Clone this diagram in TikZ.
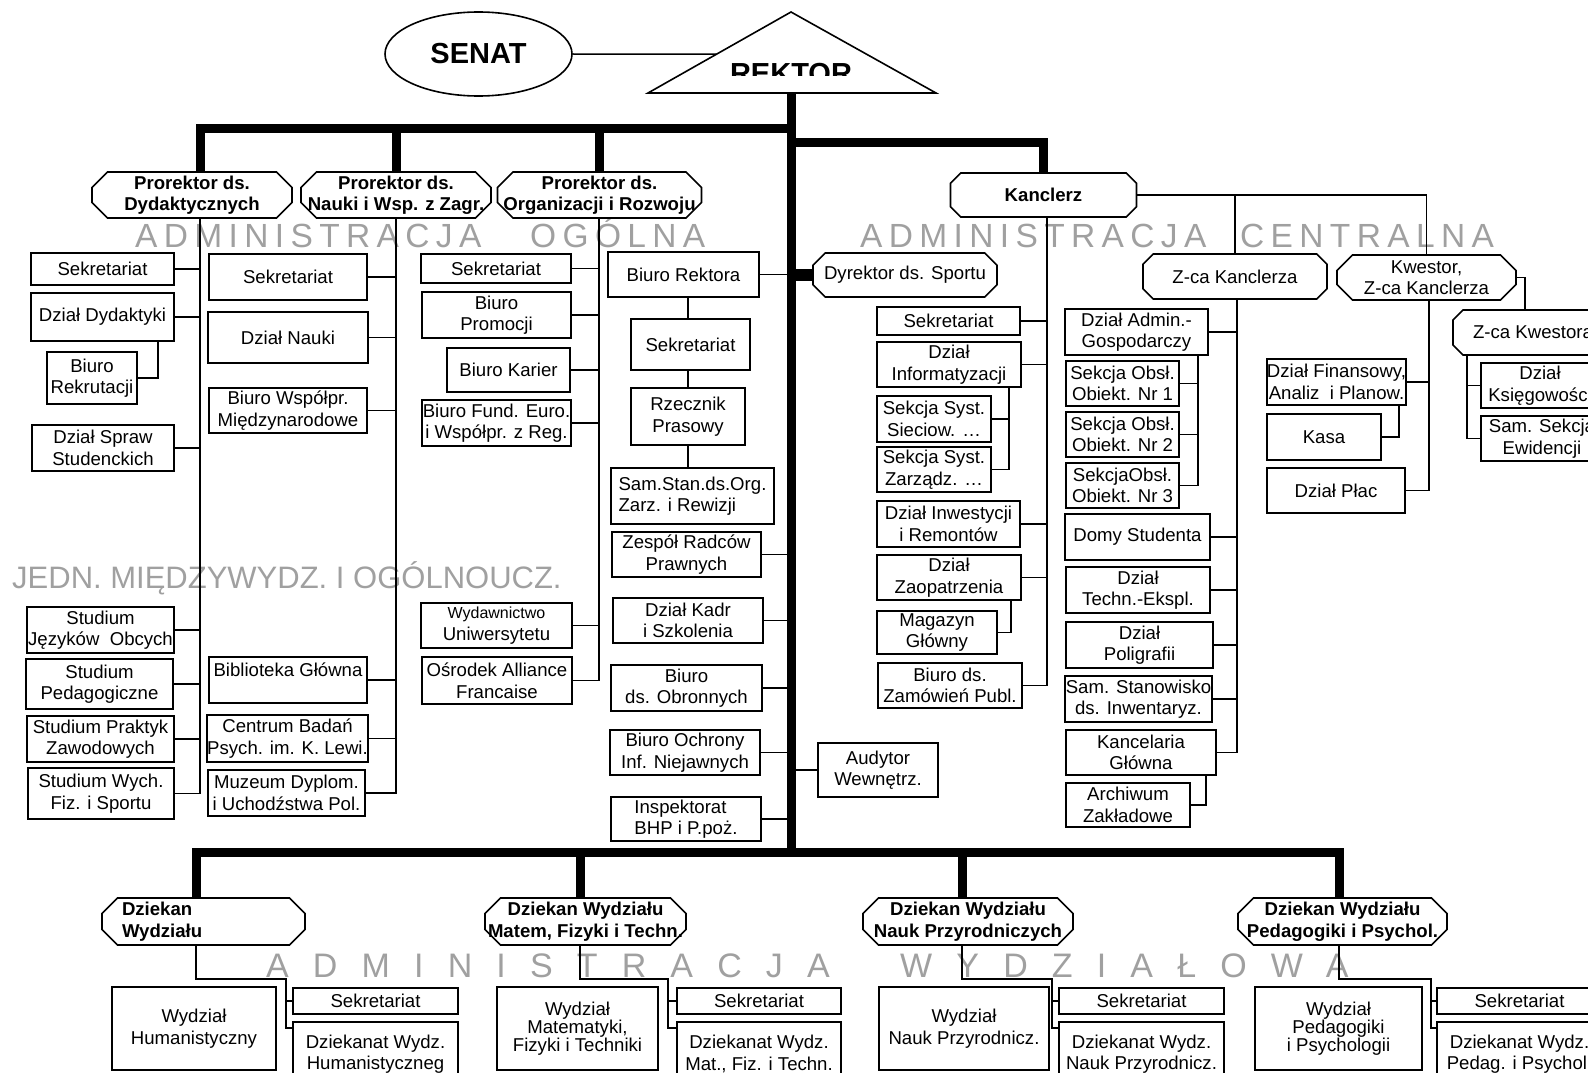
\documentclass[tikz,border=0pt]{standalone}
\usepackage{fontspec}
\setmainfont{Liberation Sans}
\newfontfamily\wmfamily[LetterSpace=19]{Liberation Sans}
\newfontfamily\wmwidefamily[LetterSpace=71]{Liberation Sans}
\usepackage{tikz}
\usetikzlibrary{calc,shapes.misc,shapes.geometric}
\definecolor{wmgray}{RGB}{160,160,160}
\newcommand\boxfont{\fontsize{18.6}{21.5}\selectfont}
\newcommand\smallboxfont{\fontsize{16}{21.5}\selectfont}
\newcommand\tightfont{\fontsize{18.6}{18}\selectfont}
\newcommand\titlefont{\fontsize{29}{32}\selectfont\bfseries}
\newcommand\wmfont{\wmfamily\fontsize{33.5}{36}\selectfont}
\newcommand\wmwidefont{\wmwidefamily\fontsize{34}{36}\selectfont}
\newcommand\jednfont{\fontsize{31}{34}\selectfont}

\begin{document}
\begin{tikzpicture}[
  x=1pt, y=-1pt,
  box/.style={draw, rectangle, line width=1.6pt, fill=white,
    inner sep=0pt, align=center, font=\boxfont},
  head/.style={draw, chamfered rectangle, chamfered rectangle xsep=12pt,
    line width=1.6pt, fill=white, inner sep=0pt, align=center, font=\boxfont},
  headb/.style={head, font=\boxfont\bfseries},
  wh/.style 2 args={minimum width=#1, minimum height=#2},
  link/.style={line width=1.5pt},
  trunk/.style={line width=9pt},
  wmark/.style={anchor=base west, inner sep=0pt, text=wmgray, font=\wmfont}
]
\clip (0,0) rectangle (1588,1073);

% watermarks
\node[wmark] (wmOgA) at (135,247) {ADMINISTRACJA};
\node[wmark] (wmOgB) at (530,247) {OGÓLNA};
\node[wmark] (wmCenA) at (860,247) {ADMINISTRACJA};
\node[wmark] (wmCenB) at (1240,247) {CENTRALNA};
\node[wmark, font=\jednfont] (wmJedn) at (12,588) {JEDN. MIĘDZYWYDZ. I OGÓLNOUCZ.};
\node[wmark, font=\wmwidefont] (wmWydA) at (266,977) {ADMINISTRACJA};
\node[wmark, font=\wmwidefont] (wmWydB) at (900,977) {WYDZIAŁOWA};

% senat and rektor
\node[draw, ellipse, line width=1.6pt, wh={187}{84}, inner sep=0pt,
  font=\titlefont] (senat) at (478.5,54) {SENAT};

\coordinate (apex) at (791,12);
\coordinate (baseL) at (648,93);
\coordinate (baseR) at (936,93);
\draw[line width=1.6pt] (apex) -- (baseR) -- (baseL) -- cycle;
\coordinate (rekL) at ($(apex)!0.52!(baseL)$);
\begin{scope}
  \clip (600,0) rectangle (1000,76);
  \node[font=\titlefont, anchor=base, inner sep=0pt] (rektor) at (791,84) {REKTOR};
\end{scope}

% prorektorzy, kanclerz
\node[headb, wh={200}{46}] (proDyd) at (192,195) {Prorektor ds.\\Dydaktycznych};
\node[headb, wh={190}{46}] (proNau) at (396,195) {Prorektor ds.\\\makebox[166pt]{Nauki i Wsp. z Zagr.}};
\node[headb, wh={204}{46}] (proOrg) at (599.5,195) {Prorektor ds.\\\makebox[180pt]{Organizacji i Rozwoju}};
\node[headb, wh={186}{44}] (kanc) at (1043.5,195) {Kanclerz};
\node[head, wh={184}{44}] (sport) at (905,275) {Dyrektor ds. Sportu};
\node[head, wh={184}{45}] (zkan) at (1235,276.5) {Z-ca Kanclerza};
\node[head, wh={179}{45}] (kwes) at (1426.5,277.5) {Kwestor,\\Z-ca Kanclerza};
\node[head, wh={160}{45}] (zkw) at (1533,332.5) {Z-ca Kwestora};

% prorektor ds. dydaktycznych
\node[box, wh={143}{32}] (sekDyd) at (102.5,269) {Sekretariat};
\node[box, wh={143}{48}] (dzDyd) at (102.5,317) {Dział Dydaktyki};
\node[box, wh={90}{52}] (brek) at (92,378) {Biuro\\Rekrutacji};
\node[box, wh={142}{46}] (dss) at (103,448) {Dział Spraw\\Studenckich};
\node[box, wh={147}{46}] (sjo) at (100.5,630) {Studium\\Języków~ Obcych};
\node[box, wh={147}{50}] (sped) at (99.5,684) {Studium\\Pedagogiczne};
\node[box, wh={147}{46}] (spz) at (100.5,739) {Studium Praktyk\\Zawodowych};
\node[box, wh={146}{51}] (swf) at (101,793.5) {Studium Wych.\\Fiz. i Sportu};

% prorektor ds. nauki
\node[box, wh={158}{46}] (sekNau) at (288,277) {Sekretariat};
\node[box, wh={160}{51}] (dzNau) at (288,337.5) {Dział Nauki};
\node[box, wh={158}{45}] (bwm) at (288,410.5) {Biuro Współpr.\\Międzynarodowe};
\node[box, wh={158}{46}] (bibl) at (288,680) {Biblioteka Główna\\\mbox{}};
\node[box, wh={159}{47}] (cbp) at (287.5,738.5) {Centrum Badań\\Psych. im. K. Lewi.};
\node[box, wh={157}{46}] (muz) at (286.5,793) {Muzeum Dyplom.\\i Uchodźstwa Pol.};

% prorektor ds. organizacji
\node[box, wh={150}{29}] (sekOrg) at (496,268.5) {Sekretariat};
\node[box, wh={149}{46}] (bprom) at (496.5,315) {Biuro\\Promocji};
\node[box, wh={123}{44}] (bkar) at (508.5,370) {Biuro Karier};
\node[box, wh={149}{46}] (bfund) at (496.5,423) {Biuro Fund. Euro.\\i Współpr. z Reg.};
\node[box, wh={151}{45}] (wyd) at (496.5,625.5) {{\smallboxfont Wydawnictwo}\\Uniwersytetu};
\node[box, wh={150}{47}] (osr) at (497,680.5) {Ośrodek Alliance\\Francaise};

% rektor
\node[box, wh={151}{45}] (brekt) at (683.5,274.5) {Biuro Rektora};
\node[box, wh={119}{51}] (sekRek) at (690.5,344.5) {Sekretariat};
\node[box, wh={114}{57}] (rzecz) at (688,416.5) {Rzecznik\\Prasowy};
\node[box, wh={163}{56}, align=left] (samst) at (692.5,496) {Sam.Stan.ds.Org.\\Zarz. i Rewizji};
\node[box, wh={149}{45}] (zesp) at (686.5,554.5) {Zespół Radców\\Prawnych};
\node[box, wh={150}{45}] (kadr) at (688,620.5) {Dział Kadr\\i Szkolenia};
\node[box, wh={151}{46}] (obr) at (686.5,688) {Biuro\\ds. Obronnych};
\node[box, wh={150}{45}] (ochr) at (685,752.5) {Biuro Ochrony\\Inf. Niejawnych};
\node[box, wh={150}{44}, align=left] (bhp) at (686,819) {Inspektorat\\BHP i P.poż.};
\node[box, wh={120}{54}] (aud) at (878,770) {Audytor\\Wewnętrz.};

% kanclerz
\node[box, wh={143}{28}] (sekKan) at (948.5,321) {Sekretariat};
\node[box, wh={144}{45}] (dinf) at (949,364.5) {Dział\\Informatyzacji};
\node[box, wh={114}{46}] (ssie) at (934,419) {Sekcja Syst.\\Sieciow. …};
\node[box, wh={114}{45}] (szar) at (934,469.5) {Sekcja Syst.\\Zarządz. …};
\node[box, wh={143}{46}] (dinw) at (948.5,524) {Dział Inwestycji\\i Remontów};
\node[box, wh={144}{45}] (dzao) at (949,577.5) {Dział\\Zaopatrzenia};
\node[box, wh={120}{43}] (mag) at (937,632.5) {Magazyn\\Główny};
\node[box, wh={144}{45}] (bzam) at (950,685.5) {Biuro ds.\\Zamówień Publ.};

% z-ca kanclerza
\node[box, wh={143}{46}] (dag) at (1136.5,332) {Dział Admin.-\\Gospodarczy};
\node[box, wh={113}{45}] (so1) at (1122.5,383.5) {Sekcja Obsł.\\Obiekt. Nr 1};
\node[box, wh={113}{45}] (so2) at (1122.5,434.5) {Sekcja Obsł.\\Obiekt. Nr 2};
\node[box, wh={113}{45}] (so3) at (1122.5,485.5) {SekcjaObsł.\\Obiekt. Nr 3};
\node[box, wh={145}{46}] (domy) at (1137.5,537) {Domy Studenta};
\node[box, wh={144}{46}] (dte) at (1138,590) {Dział\\Techn.-Ekspl.};
\node[box, wh={147}{46}] (dpol) at (1139.5,645) {Dział\\Poligrafii};
\node[box, wh={147}{46}] (ssi) at (1138.5,699) {Sam. Stanowisko\\ds. Inwentaryz.};
\node[box, wh={150}{45}] (kgl) at (1141,752.5) {Kancelaria\\Główna};
\node[box, wh={124}{44}] (arch) at (1128,805) {Archiwum\\Zakładowe};

% kwestor
\node[box, wh={139}{46}] (dfin) at (1336.5,382) {Dział Finansowy,\\Analiz~ i Planow.};
\node[box, wh={114}{46}] (kasa) at (1324,437) {Kasa};
\node[box, wh={138}{45}] (dplac) at (1336,490.5) {Dział Płac};
\node[box, wh={118}{45}] (dks) at (1540,385.5) {Dział\\Księgowości};
\node[box, wh={122}{45}] (sse) at (1542,438.5) {Sam. Sekcja\\Ewidencji};

% dziekani
\node[headb, wh={203}{47}, text width=163pt, align=left, inner xsep=8pt] (dzHum) at (203.5,921.5) {Dziekan\\Wydziału};
\node[headb, wh={201}{47}] (dzMat) at (585.5,921.5) {Dziekan Wydziału\\\makebox[177pt]{Matem, Fizyki i Techn.}};
\node[headb, wh={210}{47}] (dzNat) at (968,921.5) {Dziekan Wydziału\\\makebox[186pt]{Nauk Przyrodniczych}};
\node[headb, wh={209}{47}] (dzPed) at (1342.5,921.5) {Dziekan Wydziału\\\makebox[185pt]{Pedagogiki i Psychol.}};

\node[box, wh={164}{83}] (wHum) at (194,1028.5) {Wydział\\Humanistyczny};
\node[box, wh={165}{26}] (sekHum) at (375.5,1001) {Sekretariat};
\node[box, wh={165}{64}] (dwHum) at (375.5,1054) {Dziekanat Wydz.\\Humanistyczneg};
\node[box, wh={161}{83}, font=\tightfont] (wMat) at (577.5,1028.5) {Wydział\\Matematyki,\\Fizyki i Techniki};
\node[box, wh={164}{26}] (sekMat) at (759,1001) {Sekretariat};
\node[box, wh={164}{64}] (dwMat) at (759,1054) {Dziekanat Wydz.\\Mat., Fiz. i Techn.};
\node[box, wh={170}{83}] (wNat) at (964,1028.5) {Wydział\\Nauk Przyrodnicz.};
\node[box, wh={165}{26}] (sekNat) at (1141.5,1001) {Sekretariat};
\node[box, wh={165}{64}] (dwNat) at (1141.5,1054) {Dziekanat Wydz.\\Nauk Przyrodnicz.};
\node[box, wh={167}{83}, font=\tightfont] (wPed) at (1338.5,1028.5) {Wydział\\Pedagogiki\\i Psychologii};
\node[box, wh={165}{26}] (sekPed) at (1519.5,1001) {Sekretariat};
\node[box, wh={165}{64}] (dwPed) at (1519.5,1054) {Dziekanat Wydz.\\Pedag. i Psychol.};

% bus points
\coordinate (trunkTop) at (791,93);
\coordinate (barTop) at (791,128);
\coordinate (barKan) at (791,142);
\coordinate (barBot) at (791,852);
\coordinate (dydBus) at (200,793.5);
\coordinate (dydFork) at (158,378);
\coordinate (nauBus) at (396,793);
\coordinate (orgBus) at (599,680.5);
\coordinate (kanBus) at (1047,685.5);
\coordinate (infFork) at (1009,469.5);
\coordinate (zaoFork) at (1011,632.5);
\coordinate (zkanBus) at (1237,752.5);
\coordinate (dagFork) at (1198,485.5);
\coordinate (kglFork) at (1206,805);
\coordinate (kwesBus) at (1429,490.5);
\coordinate (finFork) at (1399,437);
\coordinate (kwesTurn) at (1525,0);
\coordinate (zkwBus) at (1467,438.5);
\coordinate (humDrop) at (196,979);
\coordinate (humFork) at (286,979);
\coordinate (matDrop) at (580,979);
\coordinate (matFork) at (668,979);
\coordinate (natDrop) at (962,979);
\coordinate (natFork) at (1052,979);
\coordinate (pedDrop) at (1339,979);
\coordinate (pedFork) at (1431,979);

% thick lines
\draw[link] (senat.east) -- (rekL);
\draw[trunk] (trunkTop) -- (barBot);
\draw[trunk] (proDyd.north -| dydBus) |- (barTop);
\draw[trunk] (proNau.north -| nauBus) -- (nauBus |- barTop);
\draw[trunk] (proOrg.north -| orgBus) -- (orgBus |- barTop);
\draw[trunk] (barKan) -| (kanc.north);
\draw[line width=12pt] (sport.west -| trunkTop) -- (sport.west);
\draw[trunk] (dzHum.north -| humDrop) -- (humDrop |- barBot) -- (pedDrop |- barBot) -- (dzPed.north -| pedDrop);
\draw[trunk] (matDrop |- barBot) -- (dzMat.north -| matDrop);
\draw[trunk] (natDrop |- barBot) -- (dzNat.north -| natDrop);

% dydaktyka
\draw[link] (proDyd.south -| dydBus) -- (dydBus) -- (swf.east);
\draw[link] (sekDyd.east) -- (sekDyd.east -| dydBus);
\draw[link] (dzDyd.east) -- (dzDyd.east -| dydBus);
\draw[link] (dss.east) -- (dss.east -| dydBus);
\draw[link] (sjo.east) -- (sjo.east -| dydBus);
\draw[link] (sped.east) -- (sped.east -| dydBus);
\draw[link] (spz.east) -- (spz.east -| dydBus);
\draw[link] (dzDyd.south -| dydFork) -- (dydFork) -- (brek.east);

% nauka
\draw[link] (proNau.south -| nauBus) -- (nauBus) -- (muz.east);
\draw[link] (sekNau.east) -- (sekNau.east -| nauBus);
\draw[link] (dzNau.east) -- (dzNau.east -| nauBus);
\draw[link] (bwm.east) -- (bwm.east -| nauBus);
\draw[link] (bibl.east) -- (bibl.east -| nauBus);
\draw[link] (cbp.east) -- (cbp.east -| nauBus);

% organizacja
\draw[link] (proOrg.south -| orgBus) -- (orgBus) -- (osr.east);
\draw[link] (sekOrg.east) -- (sekOrg.east -| orgBus);
\draw[link] (bprom.east) -- (bprom.east -| orgBus);
\draw[link] (bkar.east) -- (bkar.east -| orgBus);
\draw[link] (bfund.east) -- (bfund.east -| orgBus);
\draw[link] (wyd.east) -- (wyd.east -| orgBus);

% rektor
\draw[link] (brekt.east) -- (brekt.east -| trunkTop);
\draw[link] (brekt.south -| rzecz) -- (sekRek.north -| rzecz);
\draw[link] (sekRek.south -| rzecz) -- (rzecz.north);
\draw[link] (rzecz.south) -- (samst.north -| rzecz);
\draw[link] (zesp.east) -- (zesp.east -| trunkTop);
\draw[link] (kadr.east) -- (kadr.east -| trunkTop);
\draw[link] (obr.east) -- (obr.east -| trunkTop);
\draw[link] (ochr.east) -- (ochr.east -| trunkTop);
\draw[link] (bhp.east) -- (bhp.east -| trunkTop);
\draw[link] (aud.west -| trunkTop) -- (aud.west);

% kanclerz
\draw[link] (kanc.east) -- (kwes.north |- kanc.east) -- (kwes.north);
\draw[link] (zkan.north |- kanc.east) -- (zkan.north);
\draw[link] (kanc.south -| kanBus) -- (kanBus) -- (bzam.east);
\draw[link] (sekKan.east) -- (sekKan.east -| kanBus);
\draw[link] (dinf.east) -- (dinf.east -| kanBus);
\draw[link] (dinw.east) -- (dinw.east -| kanBus);
\draw[link] (dzao.east) -- (dzao.east -| kanBus);
\draw[link] (dinf.south -| infFork) -- (infFork) -- (szar.east);
\draw[link] (ssie.east) -- (ssie.east -| infFork);
\draw[link] (dzao.south -| zaoFork) -- (zaoFork) -- (mag.east);

% z-ca kanclerza
\draw[link] (zkan.south -| zkanBus) -- (zkanBus) -- (kgl.east);
\draw[link] (dag.east) -- (dag.east -| zkanBus);
\draw[link] (domy.east) -- (domy.east -| zkanBus);
\draw[link] (dte.east) -- (dte.east -| zkanBus);
\draw[link] (dpol.east) -- (dpol.east -| zkanBus);
\draw[link] (ssi.east) -- (ssi.east -| zkanBus);
\draw[link] (dag.south -| dagFork) -- (dagFork) -- (so3.east);
\draw[link] (so1.east) -- (so1.east -| dagFork);
\draw[link] (so2.east) -- (so2.east -| dagFork);
\draw[link] (kgl.south -| kglFork) -- (kglFork) -- (arch.east);

% kwestor
\draw[link] (kwes.south -| kwesBus) -- (kwesBus) -- (dplac.east);
\draw[link] (dfin.east) -- (dfin.east -| kwesBus);
\draw[link] (dfin.south -| finFork) -- (finFork) -- (kasa.east);
\draw[link] (kwes.east) -| (kwesTurn |- zkw.north);
\draw[link] (zkw.south -| zkwBus) -- (zkwBus) -- (sse.west);
\draw[link] (dks.west -| zkwBus) -- (dks.west);

% wydzialy
\draw[link] (dzHum.south -| humDrop) -- (humDrop) -- (humFork) |- ([yshift=-7pt]dwHum.north west);
\draw[link] (humFork |- sekHum.west) -- (sekHum.west);
\draw[link] (dzMat.south -| matDrop) -- (matDrop) -- (matFork) |- ([yshift=-7pt]dwMat.north west);
\draw[link] (matFork |- sekMat.west) -- (sekMat.west);
\draw[link] (dzNat.south -| natDrop) -- (natDrop) -- (natFork) |- ([yshift=-7pt]dwNat.north west);
\draw[link] (natFork |- sekNat.west) -- (sekNat.west);
\draw[link] (dzPed.south -| pedDrop) -- (pedDrop) -- (pedFork) |- ([yshift=-7pt]dwPed.north west);
\draw[link] (pedFork |- sekPed.west) -- (sekPed.west);

\end{tikzpicture}
\end{document}
